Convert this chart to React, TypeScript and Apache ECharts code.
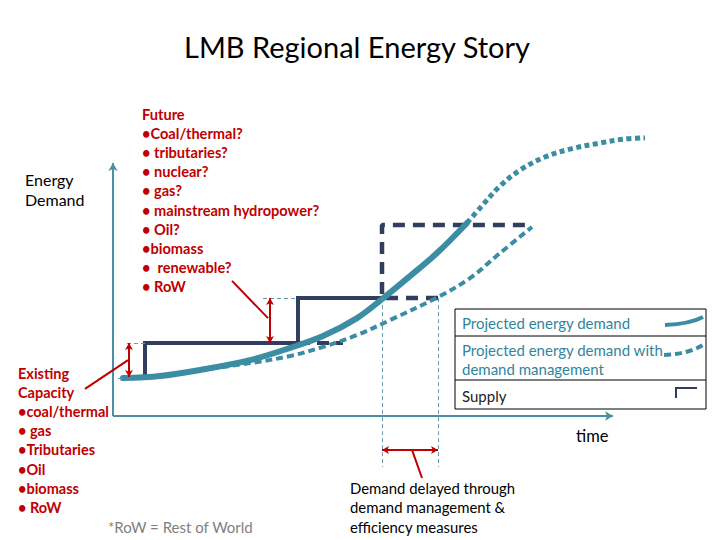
import React, { useEffect, useRef } from 'react';
import * as echarts from 'echarts';

// time axis 0..100, demand axis 0..100
const projectedDemand: number[][] = [
  [2.0, 15.0], [9.4, 15.8], [17.4, 18.2], [27.4, 22.1], [35.4, 26.9], [42.0, 31.6],
  [48.8, 38.7], [53.8, 46.2], [59.4, 55.3], [64.8, 64.4], [70.8, 76.3],
];
const projectedOutlook: number[][] = [
  [70.8, 76.3], [73.4, 82.2], [77.4, 90.9], [81.4, 97.2], [86.4, 102.4], [91.4, 105.5],
  [97.4, 107.9], [102.4, 109.5], [106.4, 109.9],
];
const managedDemand: number[][] = [
  [17.4, 18.2], [27.4, 20.9], [35.4, 23.7], [42.0, 27.3], [48.8, 32.0], [55.4, 37.9],
  [65.0, 47.0], [71.4, 54.5], [77.4, 64.4], [83.8, 74.7],
];
const supplyBuilt: number[][] = [
  [6.4, 15.0], [6.4, 28.9], [37.0, 28.9], [37.0, 46.6], [53.8, 46.6],
];
const supplyPlannedLow: number[][] = [[37.0, 28.9], [46.0, 28.9]];
const supplyPlannedHigh: number[][] = [[65.0, 46.6], [53.8, 46.6], [53.8, 75.5], [83.8, 75.5]];

const axisSegments: number[][][] = [
  [[0, 0], [100, 0]],
  [[0, 0], [0, 100]],
];
const guideLines: number[][][] = [
  [[1.0, 15.0], [2.4, 15.0]],
  [[2.8, 28.9], [6.4, 28.9]],
  [[30.0, 46.6], [37.0, 46.6]],
  [[53.8, 46.6], [53.8, -20.2]],
  [[65.0, 46.6], [65.0, -20.2]],
];
const gapArrows: number[][][] = [
  [[3.2, 28.9], [3.2, 15.4]],
  [[31.4, 46.6], [31.4, 28.9]],
  [[53.8, -13.4], [65.0, -13.4]],
];
const pointerLines: number[][][] = [
  [[3.0, 22.1], [-5.6, 10.7]],
  [[23.8, 53.4], [31.0, 38.7]],
  [[59.8, -13.4], [61.8, -24.5]],
];

const futureLines = ['Future', '•Coal/thermal?', '• tributaries?', '• nuclear?', '• gas?', '• mainstream hydropower?', '• Oil?', '•biomass', '•  renewable?', '• RoW'];
const existingLines = ['Existing', 'Capacity', '•coal/thermal', '• gas', '•Tributaries', '•Oil', '•biomass', '• RoW'];
const legendLabels = ['Projected energy demand', 'Projected energy demand with\ndemand management', 'Supply'];
const delayLines = ['Demand delayed through', 'demand management &', 'efficiency measures'];

const TEAL = '#3A8DA3';
const NAVY = '#323E5E';
const RED = '#C00000';
const AXIS = '#4A8FA3';
const FONT = 'Lato, "Noto Sans", sans-serif';

export default function App() {
  const ref = useRef<HTMLDivElement>(null);
  useEffect(() => {
    document.body.style.margin = '0';
    const chart = echarts.init(ref.current!, null, { renderer: 'svg' });
    const mkPairs = (arr: number[][][]) => arr.map((p) => [{ coord: p[0] }, { coord: p[1] }]);
    const hiddenAxis = { type: 'value', show: false, axisLine: { show: false }, splitLine: { show: false } };
    const option: any = {
      animation: false,
      backgroundColor: '#ffffff',
      grid: { left: 13, right: 57, top: 125.05, bottom: 48.1 },
      xAxis: { ...hiddenAxis, min: -20, max: 110 },
      yAxis: { ...hiddenAxis, min: -30, max: 115 },
      series: [
        {
          type: 'line', data: [], silent: true, z: 1,
          markLine: {
            silent: true, symbol: ['none', 'none'], label: { show: false },
            lineStyle: { color: '#6A9AAA', width: 1, type: [4, 3] },
            data: mkPairs(guideLines),
          },
        },
        {
          type: 'line', data: [], silent: true, z: 1,
          markLine: {
            silent: true, symbol: ['none', 'arrow'], symbolSize: [7, 8], label: { show: false },
            lineStyle: { color: AXIS, width: 2, type: 'solid' },
            data: mkPairs(axisSegments),
          },
        },
        {
          type: 'line', data: supplyBuilt, showSymbol: false, z: 2,
          lineStyle: { color: NAVY, width: 4, join: 'miter' },
        },
        {
          type: 'line', data: supplyPlannedLow, showSymbol: false, z: 2,
          lineStyle: { color: NAVY, width: 4, type: [12, 7] },
        },
        {
          type: 'line', data: supplyPlannedHigh, showSymbol: false, z: 2,
          lineStyle: { color: NAVY, width: 4.5, type: [12, 8] },
        },
        {
          type: 'line', data: managedDemand, showSymbol: false, z: 3, smooth: 0.35,
          lineStyle: { color: TEAL, width: 4, type: [7, 4] },
        },
        {
          type: 'line', data: projectedOutlook, showSymbol: false, z: 3, smooth: 0.35,
          lineStyle: { color: TEAL, width: 5, type: [5, 3.5] },
        },
        {
          type: 'line', data: projectedDemand, showSymbol: false, z: 4, smooth: 0.35,
          lineStyle: { color: TEAL, width: 6, cap: 'round' },
        },
        {
          type: 'line', data: [], silent: true, z: 5,
          markLine: {
            silent: true, symbol: ['arrow', 'arrow'], symbolSize: [6, 7], label: { show: false },
            lineStyle: { color: RED, width: 2, type: 'solid' },
            data: mkPairs(gapArrows),
          },
        },
        {
          type: 'line', data: [], silent: true, z: 5,
          markLine: {
            silent: true, symbol: ['none', 'none'], label: { show: false },
            lineStyle: { color: RED, width: 2, type: 'solid' },
            data: mkPairs(pointerLines),
          },
        },
      ],
      graphic: [
        { type: 'text', style: { text: 'LMB Regional Energy Story', x: 357, y: 46, textAlign: 'center', textVerticalAlign: 'middle', font: `29px ${FONT}`, fill: '#000' } },
        { type: 'text', style: { text: 'Energy\nDemand', x: 25, y: 169, lineHeight: 20, font: `16px ${FONT}`, fill: '#000' } },
        { type: 'text', style: { text: futureLines.join('\n'), x: 142, y: 105, lineHeight: 19.1, font: `bold 14.6px ${FONT}`, fill: RED } },
        { type: 'text', style: { text: existingLines.join('\n'), x: 18, y: 364, lineHeight: 19.1, font: `bold 14.5px ${FONT}`, fill: RED } },
        { type: 'text', style: { text: '*RoW = Rest of World', x: 108, y: 527, textVerticalAlign: 'middle', font: `15px ${FONT}`, fill: '#7F7F7F' } },
        { type: 'text', style: { text: 'time', x: 576, y: 436, textVerticalAlign: 'middle', font: `16.5px ${FONT}`, fill: '#000' } },
        { type: 'text', style: { text: delayLines.join('\n'), x: 350, y: 478, lineHeight: 19.5, font: `14.9px ${FONT}`, fill: '#000' } },
        // legend box
        { type: 'rect', shape: { x: 455, y: 309, width: 251, height: 100 }, style: { fill: '#fff', stroke: '#000', lineWidth: 1 }, z: 10 },
        { type: 'line', shape: { x1: 455, y1: 336, x2: 706, y2: 336 }, style: { stroke: '#000', lineWidth: 1 }, z: 11 },
        { type: 'line', shape: { x1: 455, y1: 380, x2: 706, y2: 380 }, style: { stroke: '#000', lineWidth: 1 }, z: 11 },
        { type: 'text', style: { text: legendLabels[0], x: 462, y: 323, textVerticalAlign: 'middle', font: `15px ${FONT}`, fill: '#31859C' }, z: 11 },
        { type: 'text', style: { text: legendLabels[1], x: 462, y: 340, lineHeight: 19, font: `15px ${FONT}`, fill: '#31859C' }, z: 11 },
        { type: 'text', style: { text: legendLabels[2], x: 462, y: 396, textVerticalAlign: 'middle', font: `15px ${FONT}`, fill: '#222' }, z: 11 },
        { type: 'bezierCurve', shape: { x1: 665, y1: 325, x2: 703, y2: 317, cpx1: 690, cpy1: 324 }, style: { stroke: TEAL, lineWidth: 4, fill: null }, z: 11 },
        { type: 'bezierCurve', shape: { x1: 664, y1: 355, x2: 703, y2: 345, cpx1: 688, cpy1: 354 }, style: { stroke: TEAL, lineWidth: 4, lineDash: [7, 4], fill: null }, z: 11 },
        { type: 'polyline', shape: { points: [[676, 398], [676, 388], [697, 388]] }, style: { stroke: NAVY, lineWidth: 2, fill: null }, z: 11 },
      ],
    };
    chart.setOption(option);
    return () => chart.dispose();
  }, []);
  return <div ref={ref} style={{ width: 720, height: 540 }} />;
}
